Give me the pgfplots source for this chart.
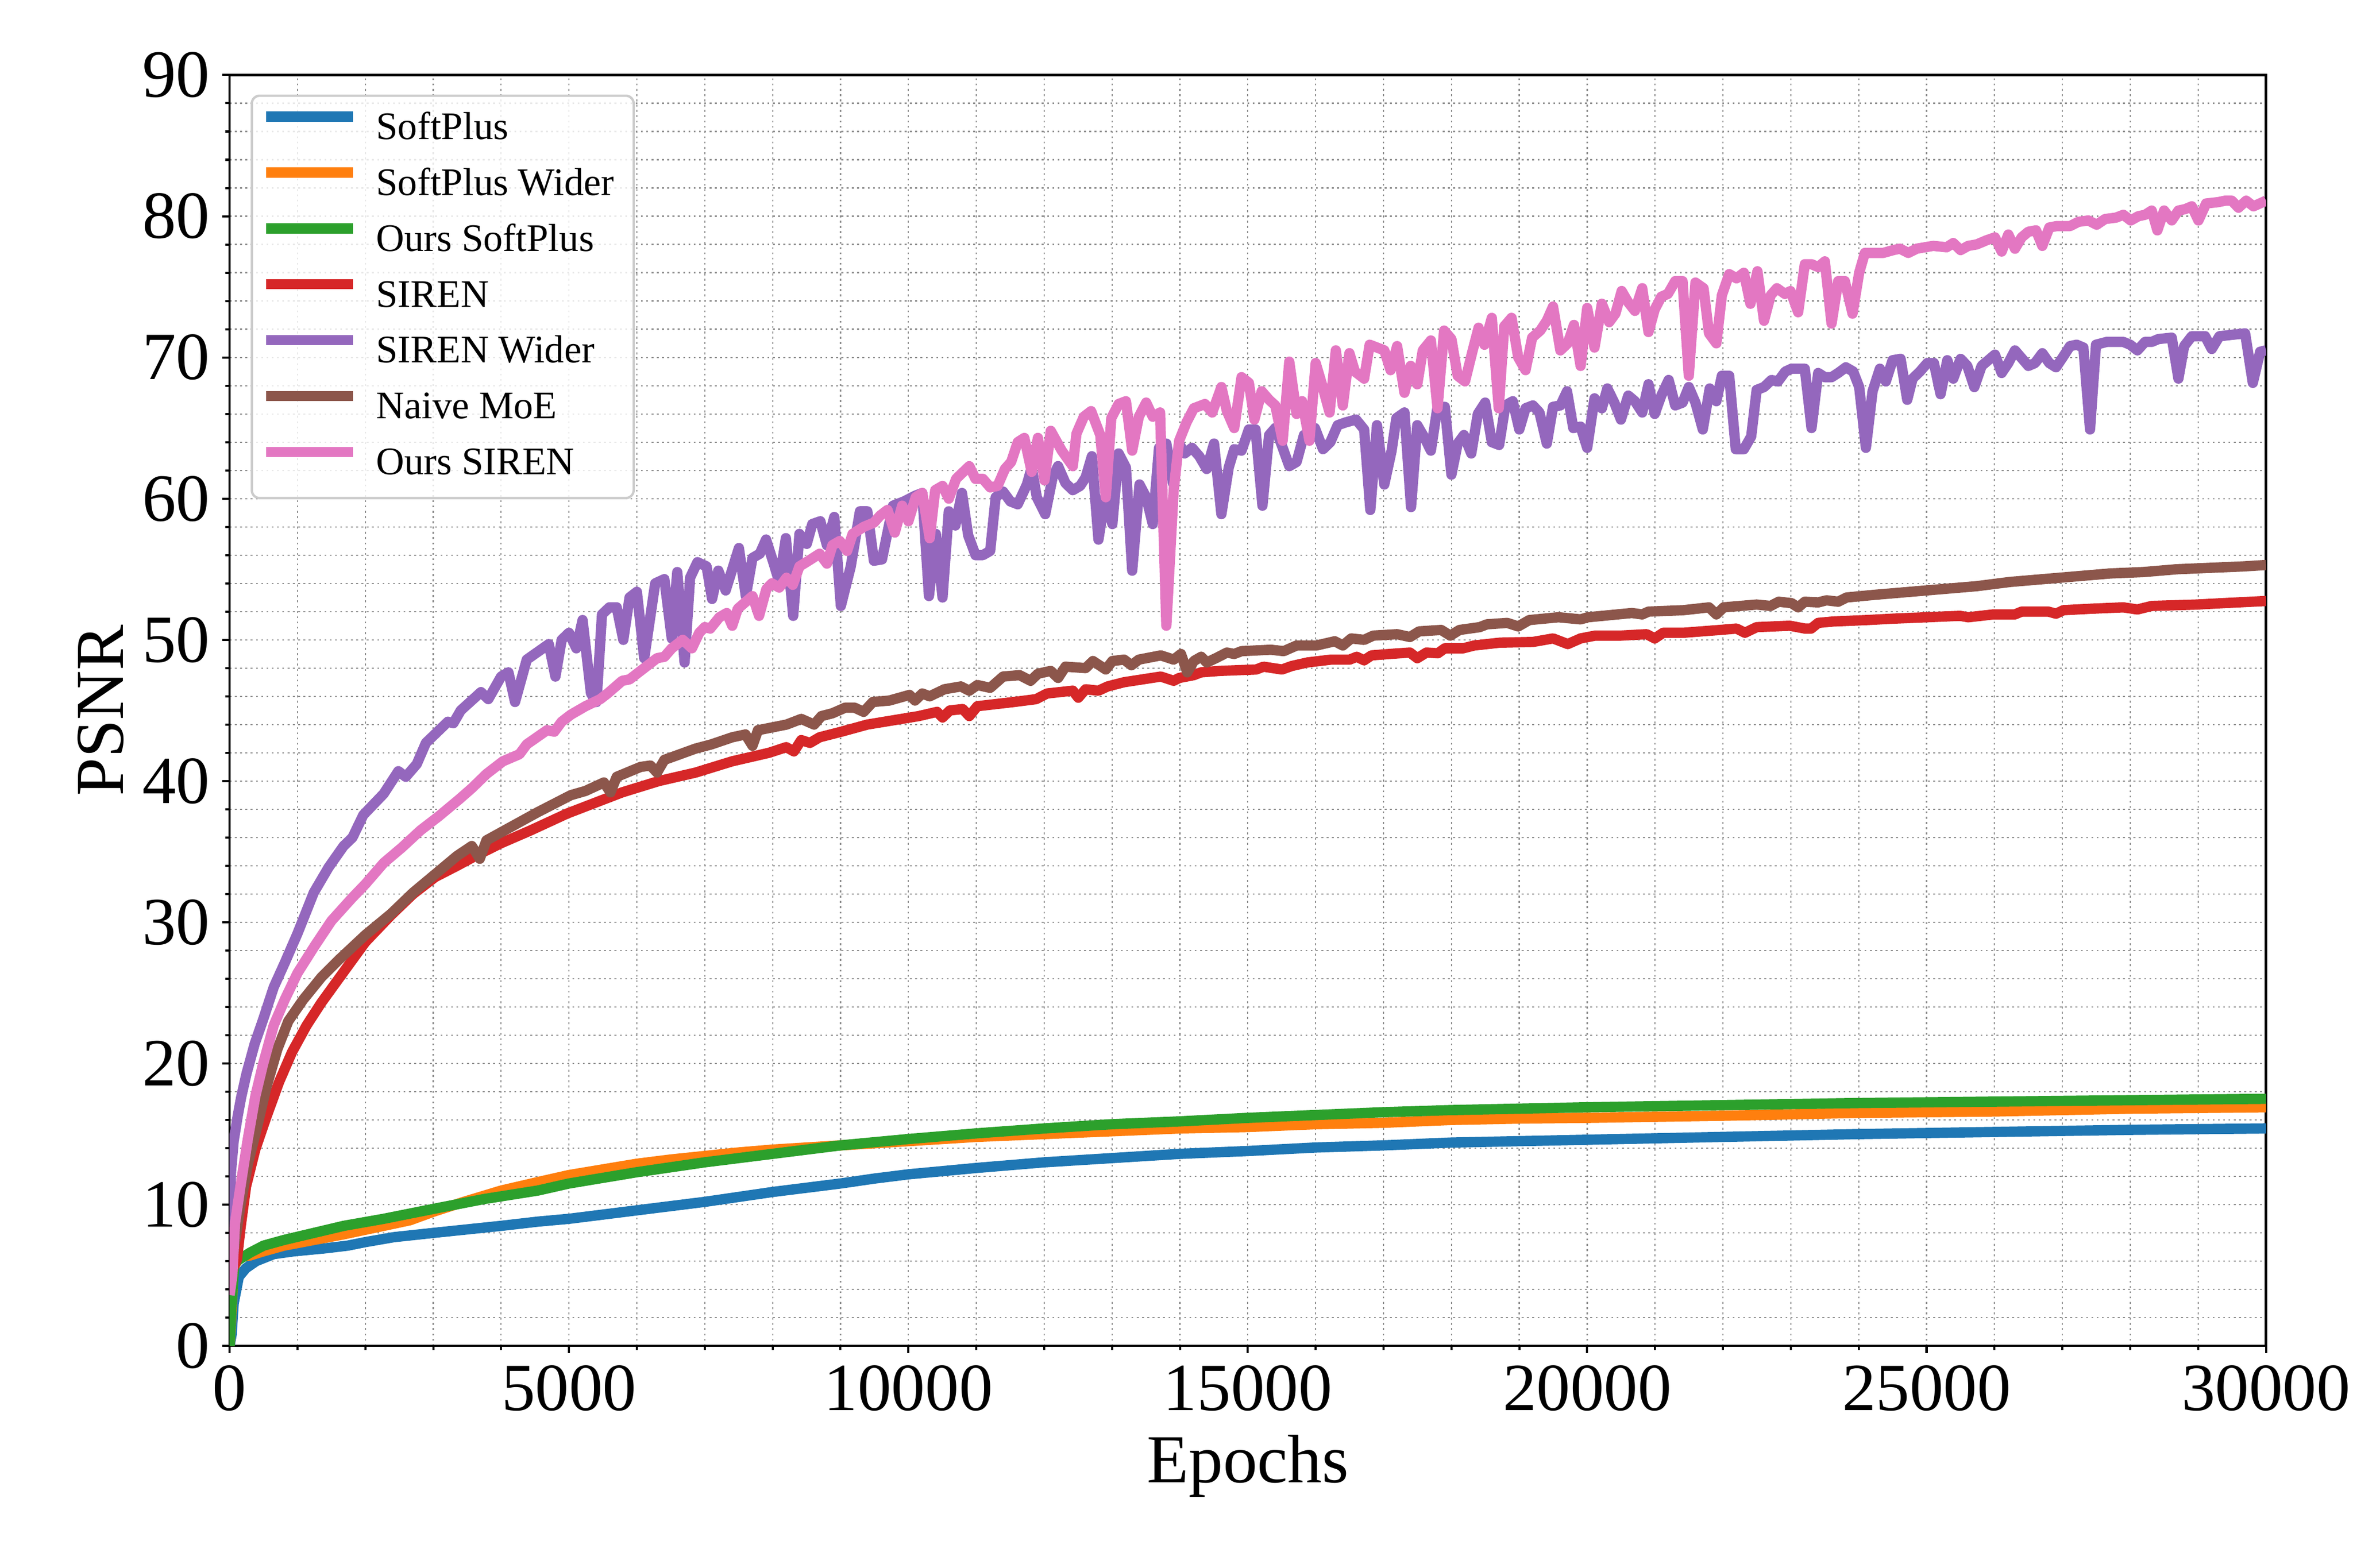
\documentclass[border=0pt]{standalone}
\usepackage{fontspec}
\setmainfont{Liberation Serif}
\usepackage{pgfplots}
\pgfplotsset{compat=1.18}
\definecolor{c0}{HTML}{1F77B4}
\definecolor{c1}{HTML}{FF7F0E}
\definecolor{c2}{HTML}{2CA02C}
\definecolor{c3}{HTML}{D62728}
\definecolor{c4}{HTML}{9467BD}
\definecolor{c5}{HTML}{8C564B}
\definecolor{c6}{HTML}{E377C2}
\definecolor{gridgray}{HTML}{8F8F8F}
\definecolor{legedge}{HTML}{CCCCCC}
\begin{document}
\begin{tikzpicture}
\begin{axis}[
  scale only axis, width=13.57cm, height=8.47cm,
  xmin=0, xmax=30000, ymin=0, ymax=90,
  xtick={0,5000,...,30000}, ytick={0,10,...,90},
  minor x tick num=4, minor y tick num=4,
  scaled x ticks=false, scaled y ticks=false,
  /pgf/number format/1000 sep={},
  /pgf/number format/assume math mode=true,
  tick label style={font=\fontsize{12.8}{14}\selectfont, inner sep=0pt},
  xticklabel style={yshift=-0.075cm},
  yticklabel style={xshift=-0.075cm},
  tick align=outside, tick pos=left,
  major tick length=1.4pt, minor tick length=0.8pt,
  every tick/.style={black, line width=0.4pt},
  axis line style={line width=0.45pt},
  grid=both,
  major grid style={draw=gridgray, line width=0.22pt, dash pattern=on 0.35pt off 0.65pt},
  minor grid style={draw=gridgray, line width=0.22pt, dash pattern=on 0.35pt off 0.65pt},
  xlabel={Epochs}, ylabel={PSNR},
  label style={font=\fontsize{13}{15}\selectfont, inner sep=0pt},
  xlabel style={at={(axis description cs:0.5,-0.1074)}, anchor=base},
  ylabel style={at={(axis description cs:-0.0523,0.5)}, anchor=base},
  no markers,
  every axis plot/.append style={line width=1.95pt, line join=round},
  legend cell align=left,
  legend image code/.code={\draw[#1] (0cm,2.4pt) -- (0.58cm,2.4pt); \path (0.63cm,2.4pt);},
  legend style={
    at={(axis description cs:0,1)}, anchor=north west, xshift=0.14cm, yshift=-0.13cm,
    draw=legedge, line width=0.45pt, rounded corners=1.5pt,
    fill=white, fill opacity=0.8, draw opacity=1, text opacity=1,
    font=\fontsize{7.4}{8.6}\selectfont,
    inner xsep=1.7pt, inner ysep=2.95pt, row sep=3.8pt,
    /tikz/column 2/.style={column sep=5.2pt},
    nodes={inner xsep=2.0pt, inner ysep=0pt, text height=5.3pt, text depth=1.5pt},
  },
]
% SoftPlus
\addplot[c0] coordinates {(0,0) (30,0.8) (60,3.0) (136,4.9) (240,5.5) (390,6.0) (650,6.5) (950,6.7) (1390,6.9) (1740,7.1) (2000,7.35) (2420,7.7) (3000,8.0) (3600,8.3) (4000,8.5) (4540,8.8) (5000,9.0) (5500,9.3) (6000,9.6) (6500,9.9) (7000,10.2) (7500,10.55) (8000,10.9) (8500,11.2) (9000,11.5) (9500,11.85) (10000,12.15) (11000,12.6) (12000,13.0) (13000,13.3) (14000,13.6) (15000,13.8) (16000,14.05) (17000,14.2) (18000,14.4) (19000,14.5) (20000,14.6) (22000,14.8) (24000,15.0) (26000,15.15) (28000,15.3) (30000,15.4)};
\addlegendentry{SoftPlus}
% SoftPlus Wider
\addplot[c1] coordinates {(0,0) (30,2.5) (60,5.5) (136,6.3) (300,6.4) (500,6.7) (800,7.1) (1240,7.5) (1680,7.9) (2270,8.5) (2660,8.9) (3000,9.5) (3450,10.2) (4000,11.0) (4540,11.6) (5000,12.1) (5500,12.5) (6000,12.9) (6500,13.2) (7000,13.45) (7500,13.7) (8000,13.9) (9000,14.2) (10000,14.5) (11000,14.8) (12000,15.0) (13000,15.2) (14000,15.4) (15000,15.5) (16000,15.7) (17000,15.8) (18000,16.0) (19000,16.1) (20000,16.15) (22000,16.3) (24000,16.5) (26000,16.6) (28000,16.8) (30000,16.9)};
\addlegendentry{SoftPlus Wider}
% Ours SoftPlus
\addplot[c2] coordinates {(0,0) (30,3.0) (70,5.8) (136,6.1) (300,6.6) (500,7.1) (800,7.5) (1240,8.0) (1680,8.5) (2270,9.0) (3000,9.7) (3750,10.4) (4540,11.0) (5000,11.5) (6000,12.3) (7000,13.0) (8000,13.6) (9000,14.2) (10000,14.65) (11000,15.05) (12000,15.4) (13000,15.7) (14000,15.9) (15000,16.15) (16000,16.35) (17000,16.55) (18000,16.7) (19000,16.8) (20000,16.9) (22000,17.05) (24000,17.2) (26000,17.3) (28000,17.4) (30000,17.5)};
\addlegendentry{Ours SoftPlus}
% SIREN
\addplot[c3] coordinates {(0,4.5) (50,5.5) (108,6.1) (162,8.4) (243,11.3) (378,13.9) (541,16.2) (730,18.7) (919,20.8) (1135,22.7) (1351,24.3) (1622,26.1) (2000,28.6) (2378,30.5) (2703,32.0) (3027,33.2) (3351,34.0) (3622,34.7) (4000,35.6) (4432,36.5) (4973,37.7) (5459,38.6) (5784,39.2) (6324,40.0) (6865,40.6) (7405,41.4) (7946,42.0) (8200,42.4) (8314,42.1) (8422,42.9) (8550,42.7) (8692,43.1) (9016,43.5) (9395,44.0) (9773,44.3) (10151,44.6) (10422,44.9) (10503,44.5) (10611,45.0) (10800,45.1) (10897,44.6) (11016,45.3) (11557,45.6) (11881,45.8) (12043,46.2) (12422,46.4) (12503,45.9) (12611,46.5) (12800,46.4) (12935,46.7) (13178,47.0) (13449,47.2) (13719,47.4) (13908,47.1) (13989,47.3) (14205,47.5) (14314,47.7) (14584,47.8) (15124,47.9) (15232,48.1) (15503,47.9) (15650,48.15) (15881,48.4) (16227,48.6) (16500,48.6) (16605,48.8) (16714,48.55) (16822,48.9) (17092,49.0) (17389,49.1) (17497,48.7) (17632,49.1) (17800,49.05) (17903,49.4) (18173,49.4) (18335,49.6) (18714,49.8) (19200,49.85) (19497,50.1) (19714,49.7) (19903,50.1) (20119,50.3) (20497,50.3) (20876,50.4) (20995,50.1) (21119,50.5) (21416,50.5) (21957,50.7) (22200,50.8) (22324,50.5) (22497,50.9) (22985,51.0) (23206,50.8) (23300,50.8) (23403,51.2) (23624,51.3) (24116,51.4) (24509,51.5) (25000,51.6) (25491,51.7) (25614,51.6) (25983,51.8) (26302,51.8) (26400,52.0) (26794,52.0) (26907,51.85) (27015,52.1) (27408,52.2) (27899,52.3) (28106,52.15) (28317,52.4) (28980,52.5) (29373,52.6) (30000,52.75)};
\addlegendentry{SIREN}
% SIREN Wider
\addplot[c4] coordinates {(0,7.0) (20,12.3) (60,14.5) (120,16.3) (170,17.6) (250,19.3) (370,21.4) (500,23.2) (650,25.4) (810,27.1) (1000,29.2) (1240,32.1) (1460,33.9) (1680,35.4) (1810,36.0) (1970,37.6) (2270,39.1) (2486,40.7) (2595,40.3) (2757,41.2) (2892,42.7) (3216,44.2) (3297,44.1) (3405,45.0) (3703,46.3) (3811,45.8) (4000,47.4) (4108,47.7) (4205,45.6) (4378,48.6) (4703,49.7) (4800,47.4) (4892,50.0) (5000,50.5) (5108,49.4) (5200,51.4) (5324,46.2) (5405,45.6) (5486,51.8) (5595,52.3) (5703,52.3) (5800,50.0) (5892,53.0) (6000,53.4) (6108,48.7) (6270,54.0) (6405,54.3) (6514,50.1) (6595,54.8) (6703,48.4) (6784,54.4) (6892,55.5) (7027,55.2) (7108,52.9) (7200,54.9) (7308,53.5) (7503,56.5) (7605,53.1) (7703,55.8) (7811,56.1) (7903,57.1) (8016,55.4) (8097,54.1) (8195,57.2) (8303,51.7) (8395,57.5) (8503,56.8) (8584,58.2) (8703,58.4) (8800,56.7) (8908,58.7) (9005,52.4) (9151,55.2) (9286,59.1) (9395,59.1) (9492,55.6) (9611,55.7) (9773,59.5) (9935,59.8) (10097,60.2) (10205,60.4) (10303,53.1) (10405,57.5) (10503,53.0) (10595,59.1) (10692,58.1) (10789,60.4) (10881,57.4) (10989,56.0) (11097,56.0) (11205,56.3) (11286,60.1) (11395,60.5) (11503,59.8) (11611,59.6) (11746,61.0) (11816,62.2) (11892,60.1) (12016,58.9) (12124,61.5) (12205,62.3) (12314,61.1) (12422,60.6) (12530,60.9) (12611,61.5) (12703,63.0) (12800,57.1) (12897,60.1) (13005,58.2) (13097,63.2) (13205,62.2) (13297,54.9) (13405,61.0) (13503,60.1) (13600,58.2) (13692,63.6) (13800,63.9) (13897,61.1) (13989,63.9) (14070,63.2) (14178,63.6) (14286,63.0) (14395,62.1) (14503,63.9) (14611,58.9) (14719,62.2) (14800,63.5) (14908,63.4) (15016,64.9) (15114,64.9) (15216,59.5) (15314,64.5) (15405,65.0) (15514,63.6) (15611,62.3) (15719,62.6) (15827,64.5) (15908,64.6) (15989,65.0) (16108,63.5) (16216,64.0) (16324,65.2) (16443,65.4) (16595,65.6) (16714,64.9) (16805,59.2) (16903,65.2) (17011,61.0) (17119,63.4) (17189,65.7) (17308,66.1) (17405,59.4) (17497,65.2) (17605,64.3) (17697,63.4) (17795,66.5) (17903,66.5) (18000,61.7) (18092,63.9) (18184,64.5) (18292,63.2) (18389,66.0) (18497,66.8) (18595,64.0) (18703,63.8) (18795,66.6) (18903,66.9) (19000,64.9) (19092,66.4) (19200,66.6) (19297,66.1) (19405,63.9) (19497,66.5) (19605,66.6) (19703,67.6) (19795,65.0) (19903,65.1) (20000,63.6) (20108,67.1) (20216,66.4) (20297,67.8) (20400,66.8) (20497,65.6) (20605,67.3) (20703,66.9) (20811,66.1) (20903,68.1) (20995,66.0) (21092,67.3) (21200,68.4) (21297,66.6) (21405,66.8) (21497,67.9) (21595,66.8) (21703,64.9) (21805,67.8) (21903,66.9) (21984,68.7) (22092,68.7) (22189,63.5) (22308,63.5) (22416,64.4) (22497,67.7) (22605,67.9) (22714,68.4) (22811,68.3) (22919,69.0) (23010,69.2) (23206,69.2) (23305,65.0) (23403,68.9) (23501,68.6) (23600,68.6) (23698,68.9) (23811,69.3) (23919,69.0) (24007,67.9) (24106,63.6) (24204,67.6) (24312,69.2) (24400,68.3) (24499,69.8) (24617,69.9) (24715,67.0) (24794,68.5) (24902,69.0) (25010,69.6) (25108,69.6) (25206,67.4) (25305,69.8) (25393,68.5) (25501,69.9) (25600,69.4) (25703,67.9) (25811,69.4) (26007,70.2) (26106,68.9) (26204,69.6) (26302,70.5) (26499,69.4) (26597,69.6) (26705,70.3) (26808,69.6) (26907,69.3) (27005,70.0) (27113,70.8) (27211,70.9) (27310,70.7) (27408,64.9) (27496,70.9) (27654,71.1) (27899,71.1) (27998,70.9) (28106,70.5) (28219,71.1) (28317,71.1) (28415,71.3) (28612,71.4) (28710,68.5) (28794,70.8) (28907,71.5) (29103,71.5) (29201,70.6) (29314,71.5) (29496,71.6) (29693,71.7) (29806,68.2) (29914,70.4) (30000,70.5)};
\addlegendentry{SIREN Wider}
% Naive MoE
\addplot[c5] coordinates {(0,4.5) (40,6.0) (81,7.4) (162,10.0) (270,12.9) (405,15.5) (541,18.3) (703,21.0) (865,23.0) (1081,24.5) (1351,26.1) (1622,27.4) (2000,29.1) (2378,30.6) (2703,32.1) (3027,33.4) (3351,34.7) (3568,35.4) (3686,34.5) (3784,35.8) (4162,36.8) (4541,37.8) (5027,39.0) (5243,39.3) (5514,39.9) (5611,39.2) (5703,40.3) (6054,41.0) (6200,41.1) (6297,40.6) (6405,41.5) (6865,42.3) (7100,42.6) (7405,43.1) (7600,43.3) (7703,42.5) (7784,43.6) (8205,44.0) (8422,44.4) (8611,44.0) (8719,44.6) (8881,44.8) (9070,45.2) (9205,45.2) (9341,44.9) (9476,45.6) (9719,45.7) (10016,46.1) (10097,45.7) (10205,46.2) (10314,46.0) (10530,46.5) (10773,46.7) (10897,46.4) (11016,46.8) (11205,46.6) (11395,47.4) (11638,47.5) (11800,47.1) (11908,47.6) (12097,47.8) (12205,47.3) (12314,48.1) (12611,48.0) (12719,48.5) (12908,47.9) (13005,48.5) (13178,48.6) (13286,48.2) (13395,48.6) (13719,48.9) (13908,48.6) (14016,49.0) (14108,47.7) (14205,48.5) (14314,48.8) (14395,48.4) (14530,48.7) (14692,49.1) (14800,49.0) (14908,49.2) (15341,49.3) (15530,49.2) (15719,49.6) (16011,49.6) (16281,49.9) (16400,49.6) (16524,50.1) (16714,50.0) (16849,50.3) (17200,50.4) (17389,50.2) (17524,50.6) (17849,50.7) (17984,50.3) (18119,50.7) (18416,50.9) (18524,51.1) (18822,51.2) (18984,50.95) (19146,51.4) (19578,51.6) (19903,51.45) (20011,51.6) (20659,51.9) (20811,51.8) (20903,52.0) (21416,52.1) (21795,52.3) (21903,51.8) (22011,52.3) (22497,52.5) (22700,52.4) (22822,52.7) (23010,52.6) (23108,52.3) (23206,52.7) (23403,52.65) (23526,52.8) (23698,52.7) (23821,53.0) (24263,53.2) (24509,53.3) (25000,53.5) (25491,53.7) (25737,53.8) (26229,54.1) (26720,54.3) (27211,54.5) (27703,54.7) (28194,54.8) (28686,55.0) (29177,55.1) (29668,55.2) (30000,55.3)};
\addlegendentry{Naive MoE}
% Ours SIREN
\addplot[c6] coordinates {(0,3.6) (40,5.0) (80,8.7) (160,11.3) (270,14.7) (380,17.7) (490,19.9) (650,22.7) (810,24.5) (1000,26.4) (1250,28.3) (1500,30.1) (1800,31.7) (2000,32.7) (2270,34.2) (2540,35.3) (2810,36.5) (3080,37.5) (3380,38.7) (3570,39.5) (3784,40.5) (4027,41.4) (4270,41.9) (4378,42.6) (4676,43.6) (4784,43.5) (4892,44.2) (5027,44.7) (5243,45.3) (5460,45.8) (5568,46.2) (5784,47.1) (5892,47.2) (6054,47.8) (6297,48.7) (6405,48.8) (6514,49.4) (6676,50.0) (6811,49.4) (6919,50.5) (7000,50.9) (7081,50.8) (7216,51.6) (7324,51.9) (7405,51.0) (7486,52.2) (7703,53.1) (7800,51.7) (7908,53.6) (7989,54.0) (8097,53.7) (8205,54.4) (8297,53.9) (8395,55.2) (8530,55.6) (8692,56.1) (8800,55.4) (8881,56.7) (8989,57.0) (9097,56.3) (9178,57.5) (9341,58.0) (9492,58.3) (9584,58.8) (9692,59.2) (9800,57.6) (9908,59.5) (10000,58.4) (10108,60.1) (10205,60.4) (10314,57.2) (10395,60.6) (10503,60.9) (10595,60.0) (10703,61.4) (10897,62.3) (10989,61.4) (11097,61.4) (11205,60.8) (11314,60.9) (11422,62.1) (11514,62.6) (11611,64.0) (11708,64.3) (11816,61.9) (11908,64.3) (12005,61.3) (12097,64.8) (12259,63.4) (12422,62.3) (12476,64.6) (12584,65.8) (12692,66.2) (12827,64.5) (12908,60.1) (12989,65.7) (13097,66.7) (13205,66.9) (13297,63.4) (13395,65.8) (13503,66.8) (13600,65.8) (13708,66.1) (13800,51.0) (13908,60.6) (13989,64.1) (14097,65.4) (14205,66.4) (14368,66.7) (14476,66.1) (14611,67.9) (14692,66.2) (14800,65.0) (14908,68.6) (15016,68.2) (15097,65.6) (15205,67.6) (15314,67.0) (15405,66.6) (15514,64.1) (15611,69.7) (15719,66.0) (15800,66.9) (15908,64.1) (16000,69.6) (16092,68.1) (16205,66.1) (16297,70.5) (16400,66.6) (16497,70.3) (16578,69.0) (16714,68.5) (16795,70.9) (17011,70.5) (17103,69.1) (17200,70.8) (17308,67.5) (17400,69.4) (17497,68.1) (17578,70.5) (17697,71.2) (17795,66.4) (17892,71.9) (18000,71.3) (18092,68.7) (18200,68.3) (18308,70.4) (18400,72.1) (18486,70.9) (18595,72.8) (18697,66.4) (18778,72.2) (18886,72.8) (18984,70.0) (19092,69.1) (19189,71.4) (19308,71.9) (19405,72.6) (19497,73.6) (19605,70.5) (19714,71.0) (19805,72.3) (19903,69.4) (20000,73.5) (20108,70.7) (20216,73.8) (20324,72.5) (20416,73.1) (20508,74.7) (20605,73.9) (20703,73.3) (20811,74.9) (20903,71.8) (20995,73.4) (21092,74.3) (21189,74.5) (21297,75.4) (21405,75.4) (21497,68.7) (21595,75.3) (21714,74.9) (21795,71.7) (21903,71.0) (21984,74.4) (22092,75.9) (22200,75.6) (22308,76.0) (22405,73.8) (22508,76.1) (22605,72.6) (22703,74.4) (22795,74.9) (22912,74.5) (22995,74.7) (23108,73.2) (23206,76.6) (23305,76.6) (23403,76.4) (23501,76.8) (23600,72.4) (23698,75.4) (23796,75.4) (23909,73.1) (24007,76.0) (24091,77.4) (24361,77.4) (24509,77.6) (24607,77.7) (24730,77.4) (24853,77.7) (25098,77.9) (25295,77.8) (25393,78.1) (25501,77.6) (25614,77.9) (25737,78.0) (25885,78.3) (26007,78.5) (26106,77.5) (26204,78.7) (26302,77.7) (26400,78.5) (26499,78.9) (26612,79.0) (26705,77.9) (26808,79.2) (26916,79.3) (27113,79.3) (27236,79.6) (27383,79.7) (27506,79.4) (27629,79.8) (27791,79.9) (27899,80.1) (28007,79.7) (28120,80.0) (28219,80.1) (28317,80.4) (28400,79.0) (28499,80.4) (28612,79.7) (28710,80.4) (28808,80.5) (28907,80.7) (29005,79.7) (29118,80.9) (29300,81.0) (29398,81.1) (29496,81.1) (29595,80.6) (29708,81.1) (29816,80.7) (30000,81.1)};
\addlegendentry{Ours SIREN}
\end{axis}
\pgfresetboundingbox
\path[use as bounding box] ([shift={(-1.53cm,-1.48cm)}]current axis.south west) rectangle ([shift={(0.58cm,0.50cm)}]current axis.north east);
\end{tikzpicture}
\end{document}
